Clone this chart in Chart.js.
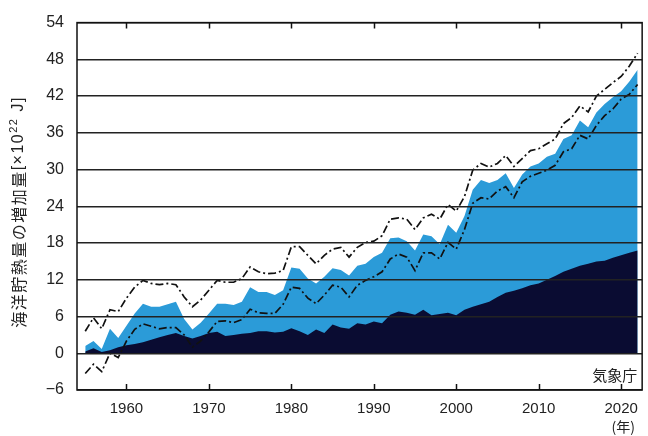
<!DOCTYPE html>
<html>
<head>
<meta charset="utf-8">
<script src="https://cdn.jsdelivr.net/npm/chart.js@4.4.0/dist/chart.umd.min.js"></script>
<style>
  html, body { margin: 0; padding: 0; background: #fff; }
</style>
</head>
<body>
<canvas id="grafico" width="648" height="436"></canvas>
<script>
// años
const years = [1955,1956,1957,1958,1959,1960,1961,1962,1963,1964,1965,1966,1967,1968,1969,
  1970,1971,1972,1973,1974,1975,1976,1977,1978,1979,1980,1981,1982,1983,1984,1985,1986,1987,
  1988,1989,1990,1991,1992,1993,1994,1995,1996,1997,1998,1999,2000,2001,2002,2003,2004,2005,
  2006,2007,2008,2009,2010,2011,2012,2013,2014,2015,2016,2017,2018,2019,2020,2021,2022];

// 700-2000m (azul oscuro)
const deep = [0.3,0.8,0.2,0.5,1.0,1.3,1.5,1.8,2.2,2.6,3.0,3.3,2.8,2.4,2.8,
  3.3,3.5,2.8,3.0,3.2,3.3,3.6,3.6,3.4,3.5,4.1,3.6,3.0,3.9,3.3,4.7,4.2,4.0,
  4.9,4.7,5.2,4.9,6.3,6.8,6.6,6.3,7.1,6.2,6.4,6.6,6.2,7.1,7.6,8.0,8.4,9.2,
  9.9,10.2,10.6,11.1,11.4,12.0,12.6,13.3,13.8,14.3,14.6,15.0,15.1,15.6,16.0,16.4,16.8];

// 0-2000m total (azul claro)
const total = [1.2,2.0,0.7,4.0,2.5,4.5,6.5,8.1,7.6,7.6,8.0,8.4,5.6,3.9,5.0,
  6.5,8.1,8.1,7.9,8.4,10.8,10.0,10.0,9.5,10.3,14.0,13.8,12.2,11.4,12.5,13.9,13.6,12.7,
  14.3,14.6,15.7,16.4,18.8,18.9,18.3,16.8,19.4,19.1,17.8,21.0,19.7,22.4,26.7,28.3,27.8,28.3,
  29.4,27.0,29.2,30.5,31.0,32.1,32.6,35.0,35.6,38.0,36.9,39.3,40.7,41.8,42.8,44.4,46.3];

// rango de incertidumbre
const upper = [3.6,5.8,4.0,7.1,6.8,9.0,10.8,11.9,11.4,11.2,11.4,11.2,9.2,7.6,8.7,
  10.3,11.9,11.6,11.6,12.2,14.1,13.3,13.0,13.1,13.5,17.4,17.4,16.0,14.6,16.0,17.0,17.3,15.7,
  17.3,18.1,18.3,19.2,21.9,22.1,21.9,20.2,22.1,22.7,21.9,24.3,23.2,25.6,29.9,31.0,30.4,31.0,
  32.3,30.5,31.8,33.1,33.4,34.2,35.0,37.5,38.5,40.4,39.4,42.0,43.1,44.2,45.2,46.9,49.0];
const lower = [-3.3,-1.8,-3.0,0.0,-0.7,2.0,3.9,4.8,4.4,4.0,4.2,4.2,3.0,1.0,2.0,
  3.5,5.2,5.3,5.0,5.5,7.2,6.6,6.5,6.5,8.0,10.8,10.6,9.0,8.1,9.5,11.1,10.8,9.2,
  11.1,11.9,12.5,13.3,15.4,16.2,15.7,13.5,16.4,16.4,15.4,18.1,17.0,20.2,24.5,25.4,25.2,26.5,
  27.2,25.4,28.0,28.9,29.4,29.9,30.7,32.9,33.4,35.6,35.0,37.2,38.8,39.9,41.5,42.3,43.9];

const xTicks = [1960,1970,1980,1990,2000,2010,2020];
const yTicks = [-6,0,6,12,18,24,30,36,42,48,54];

const pts = arr => arr.map((v, i) => ({ x: years[i], y: v }));

// marco, marcas de eje y textos
const decor = {
  id: 'decor',
  afterDraw(chart) {
    const { ctx, chartArea: a, scales } = chart;
    ctx.save();
    ctx.strokeStyle = '#111';
    ctx.lineWidth = 1.5;
    ctx.strokeRect(a.left, a.top, a.right - a.left, a.bottom - a.top);
    ctx.beginPath();
    xTicks.forEach(t => {
      const px = Math.round(scales.x.getPixelForValue(t)) + 0.5;
      ctx.moveTo(px, a.top); ctx.lineTo(px, a.top + 6);
      ctx.moveTo(px, a.bottom); ctx.lineTo(px, a.bottom - 6);
    });
    ctx.stroke();

    ctx.fillStyle = '#222';
    ctx.font = '15px "Noto Sans CJK JP"';
    ctx.textAlign = 'right';
    ctx.textBaseline = 'middle';
    ctx.fillText('気象庁', a.right - 5, 375);

    ctx.font = '14px "Noto Sans CJK JP"';
    ctx.textAlign = 'center';
    ctx.fillText('(年)', scales.x.getPixelForValue(2020) + 2, 427);

    // título del eje y, girado
    ctx.translate(19, 212);
    ctx.rotate(-Math.PI / 2);
    ctx.textAlign = 'left';
    ctx.textBaseline = 'middle';
    const partes = [
      { t: '海洋貯熱量の増加量', f: '16px "Noto Sans CJK JP"', dy: 0 },
      { t: '[×10', f: '16px "Liberation Sans"', dy: 0 },
      { t: '22', f: '11px "Liberation Sans"', dy: -5 },
      { t: ' J]', f: '16px "Liberation Sans"', dy: 0 }
    ];
    ctx.letterSpacing = '1.5px';
    let w = 0;
    partes.forEach(p => { ctx.font = p.f; w += ctx.measureText(p.t).width; });
    let x = -w / 2;
    partes.forEach(p => {
      ctx.font = p.f;
      ctx.fillText(p.t, x, p.dy);
      x += ctx.measureText(p.t).width;
    });
    ctx.restore();
  }
};

new Chart(document.getElementById('grafico'), {
  type: 'line',
  data: {
    datasets: [
      { data: pts(upper), borderColor: '#111', borderWidth: 1.7, borderDash: [8, 3, 2, 3], pointRadius: 0, fill: false, order: 1 },
      { data: pts(lower), borderColor: '#111', borderWidth: 1.7, borderDash: [8, 3, 2, 3], pointRadius: 0, fill: false, order: 2 },
      { data: pts(deep), borderWidth: 0, backgroundColor: '#0a0c32', pointRadius: 0, fill: 'origin', order: 3 },
      { data: pts(total), borderWidth: 0, backgroundColor: '#2b9bd8', pointRadius: 0, fill: 'origin', order: 4 }
    ]
  },
  options: {
    responsive: false,
    animation: false,
    devicePixelRatio: 1,
    layout: { padding: { top: 17, right: 5, left: 0, bottom: 0 } },
    plugins: { legend: { display: false }, tooltip: { enabled: false } },
    elements: { line: { tension: 0 } },
    scales: {
      x: {
        type: 'linear',
        min: 1954,
        max: 2022.55,
        afterBuildTicks: s => { s.ticks = xTicks.map(v => ({ value: v })); },
        afterFit: s => { s.height = 46; },
        grid: { display: false, drawTicks: false },
        border: { display: false },
        ticks: { padding: 10, color: '#222', font: { family: 'Liberation Sans', size: 15 }, maxRotation: 0, callback: v => String(v) }
      },
      y: {
        min: -6,
        max: 54,
        afterBuildTicks: s => { s.ticks = yTicks.map(v => ({ value: v })); },
        afterFit: s => { s.width = 77; },
        grid: { color: '#222', lineWidth: 1.4, drawTicks: false, z: 1 },
        border: { display: false },
        ticks: { padding: 13, color: '#222', font: { family: 'Liberation Sans', size: 16 }, callback: v => v < 0 ? '−' + Math.abs(v) : String(v) }
      }
    }
  },
  plugins: [decor]
});
</script>
</body>
</html>
